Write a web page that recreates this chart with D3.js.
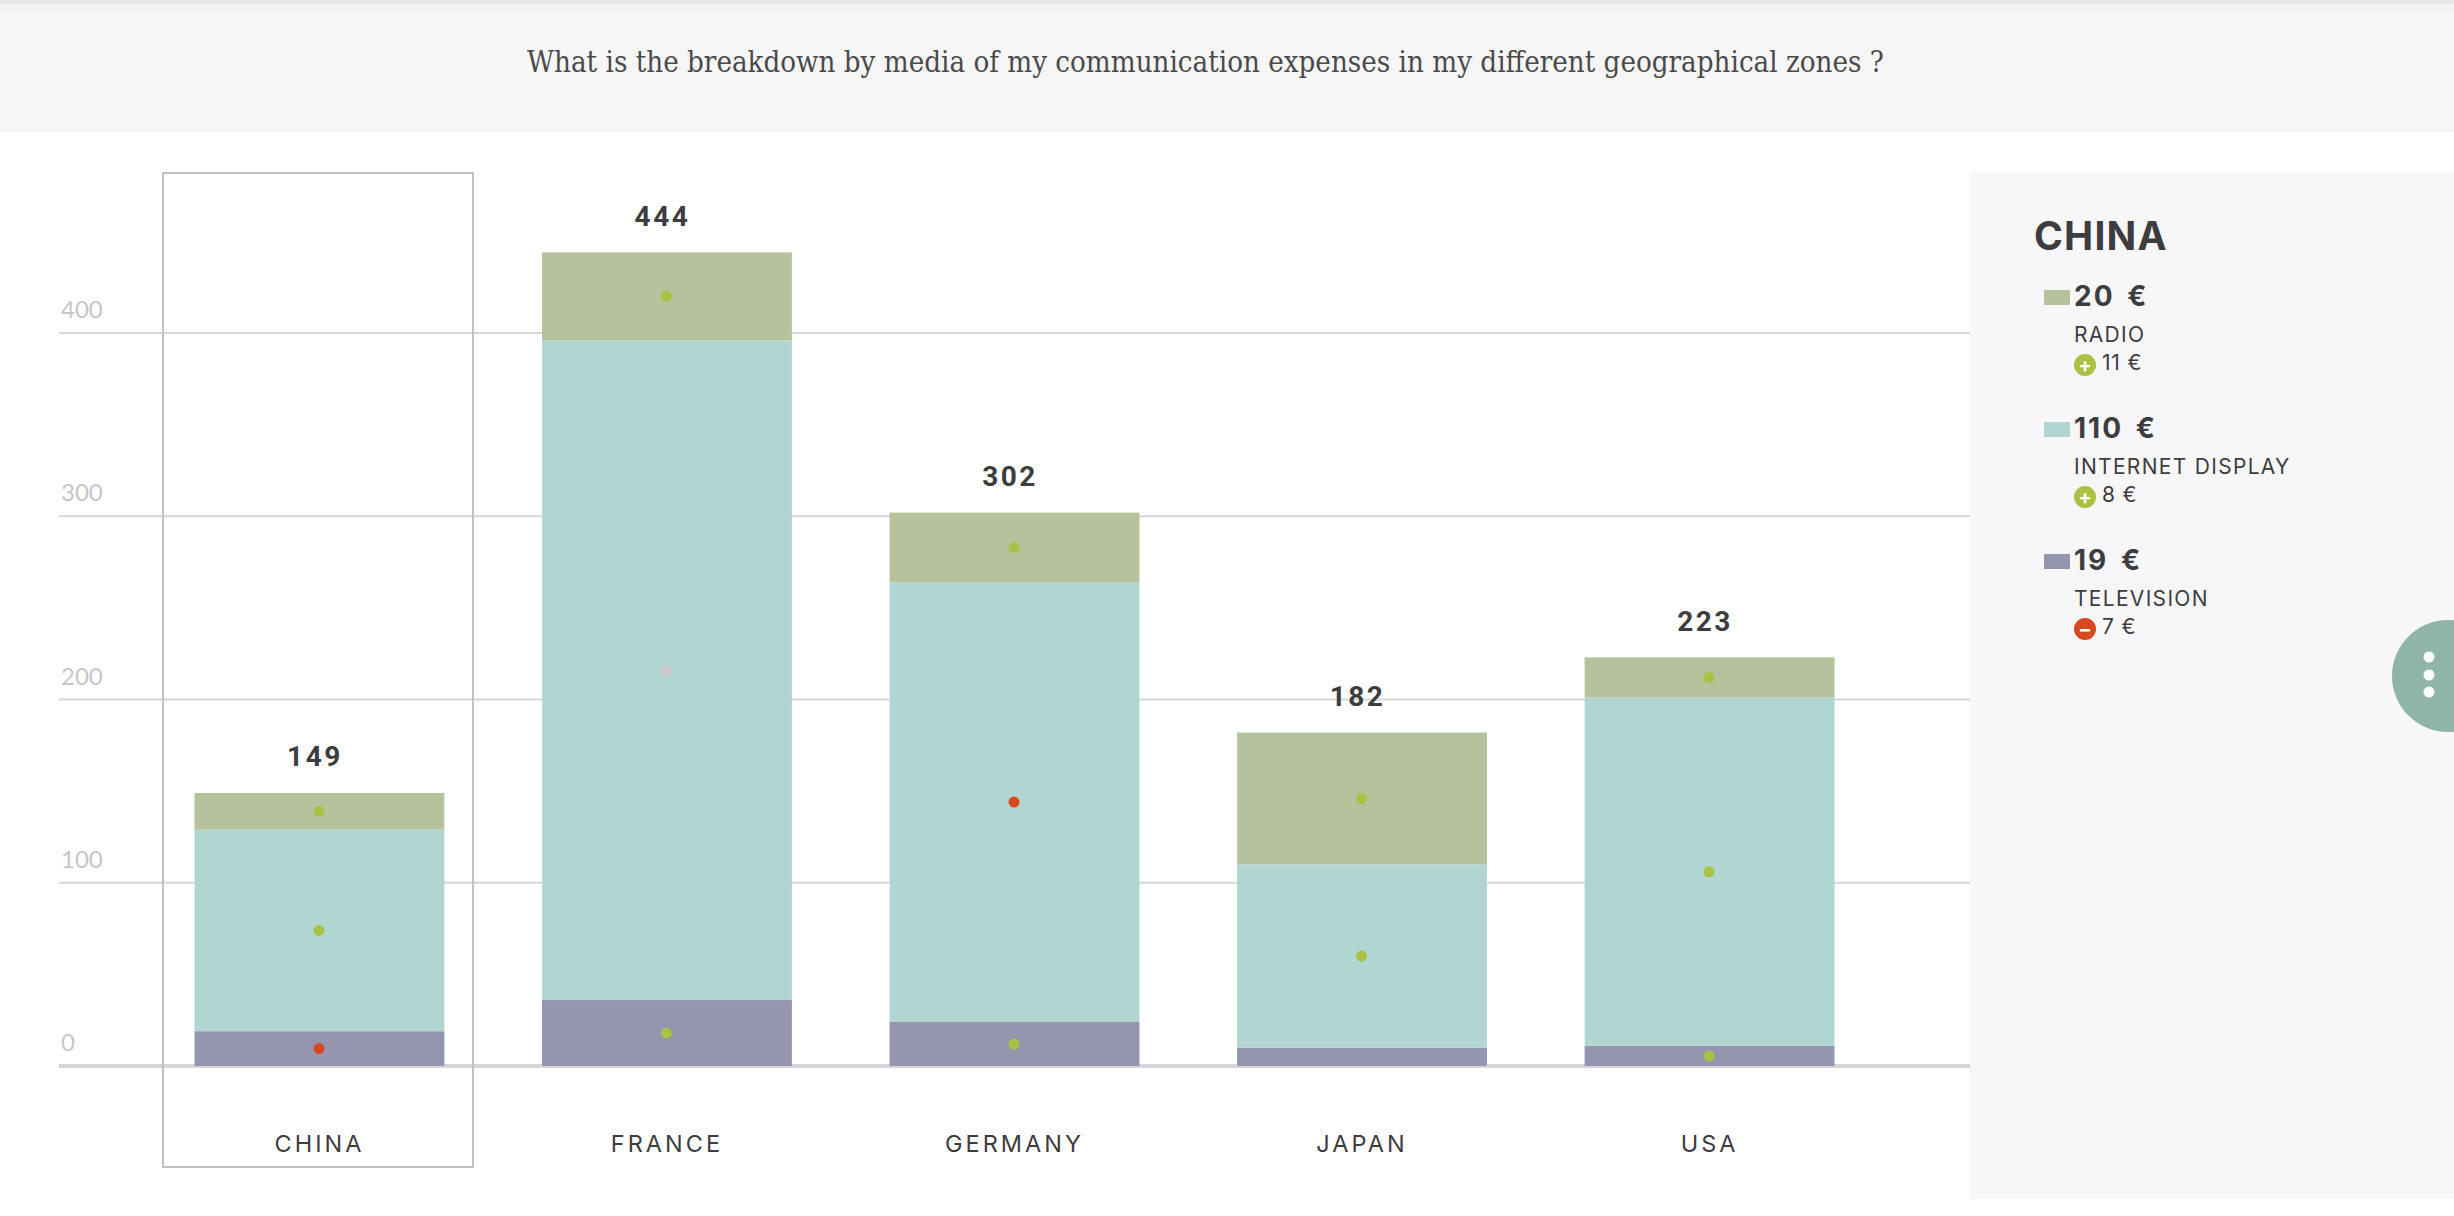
<!DOCTYPE html>
<html>
<head>
<meta charset="utf-8">
<script src="https://cdn.jsdelivr.net/npm/d3@7"></script>
<style>
  html, body { margin: 0; padding: 0; background: #fff; overflow: hidden; }
  svg { display: block; }
  text { fill: #3d3d3f; }
</style>
</head>
<body>
<div id="root"></div>
<script>
const question = "What is the breakdown by media of my communication expenses in my different geographical zones ?"

const countries = ["CHINA", "FRANCE", "GERMANY", "JAPAN", "USA"]
const television = [19, 36, 24, 10, 11]
const internetDisplay = [110, 360, 240, 100, 190]
const radio = [20, 48, 38, 72, 22]

// variation sign shown by the dot of each segment, 0 = no dot
const televisionTrend = [-1, 1, 1, 0, 1]
const internetTrend = [1, -1, -1, 1, 1]
const radioTrend = [1, 1, 1, 1, 1]

const yTicks = [0, 100, 200, 300, 400]

const legendTitle = "CHINA"
const legendNames = ["RADIO", "INTERNET DISPLAY", "TELEVISION"]
const legendValues = [20, 110, 19]
const legendDeltas = [11, 8, -7]
const legendKeys = ["radio", "internet", "television"]

const w = 2454, h = 1216
const colors = {television: "#9595b0", internet: "#b1d6d2", radio: "#b6c29b"}
const up = "#a9c244", down = "#d6491f"

const rows = countries.map((c, i) => ({
    country: c,
    television: television[i],
    internet: internetDisplay[i],
    radio: radio[i],
    trend: {television: televisionTrend[i], internet: internetTrend[i], radio: radioTrend[i]}
}))

const svg = d3.select("#root").append("svg")
    .attr("width", w)
    .attr("height", h)

// header band
svg.append("rect").attr("width", w).attr("height", 132).attr("fill", "#f6f6f6")
svg.append("rect").attr("width", w).attr("height", 4).attr("fill", "#e8e8e8")
svg.append("rect").attr("y", 4).attr("width", w).attr("height", 8).attr("fill", "#f3f3f3")
svg.append("text")
    .attr("x", 1205.5)
    .attr("y", 72)
    .attr("text-anchor", "middle")
    .attr("font-family", "'DejaVu Serif Condensed', 'DejaVu Serif'")
    .attr("font-size", 29.2)
    .style("fill", "#4a4a4c")
    .text(question)

// side panel
svg.append("rect").attr("x", 1970).attr("y", 172).attr("width", w - 1970).attr("height", 1027).attr("fill", "#f7f6f8")

//scales
const x = d3.scaleBand()
    .domain(countries)
    .range([194.5, 1834.5])
    .paddingInner(0.281)
    .paddingOuter(0)

const y = d3.scaleLinear()
    .domain([0, 400])
    .range([1066, 333])

// y axis, its ticks are the gridlines
const yAxis = svg.append("g")
    .attr("transform", "translate(59,-0.5)")
    .call(d3.axisRight(y).tickValues(yTicks).tickSize(1970 - 59))

yAxis.select(".domain").remove()
yAxis.selectAll("line")
    .attr("stroke", "#d6d6da")
    .attr("stroke-width", d => d === 0 ? 4 : 2)
yAxis.selectAll("text")
    .attr("x", 2)
    .attr("dy", 0)
    .attr("y", -15)
    .attr("text-anchor", "start")
    .attr("font-family", "Lato")
    .attr("font-weight", 400)
    .attr("font-size", 24)
    .style("fill", "#c6c6c8")

// stacked bars
const stack = d3.stack().keys(["television", "internet", "radio"])
const layers = stack(rows)

const layer = svg.selectAll("g.layer")
    .data(layers)
    .enter()
    .append("g")
    .attr("class", "layer")
    .attr("fill", d => colors[d.key])

layer.selectAll("rect")
    .data(d => d)
    .enter()
    .append("rect")
    .attr("x", d => x(d.data.country))
    .attr("width", x.bandwidth())
    .attr("y", d => y(d[1]))
    .attr("height", d => y(d[0]) - y(d[1]))

// trend dots in the middle of the segments
const dots = layers.flatMap(l => l.map(d => ({
    country: d.data.country,
    mid: (d[0] + d[1]) / 2,
    sign: d.data.trend[l.key],
    faint: d.data.country === "FRANCE" && l.key === "internet"
}))).filter(d => d.sign !== 0)

svg.selectAll("circle.dot")
    .data(dots)
    .enter()
    .append("circle")
    .attr("class", "dot")
    .attr("cx", d => x(d.country) + x.bandwidth() / 2 - 0.5)
    .attr("cy", d => y(d.mid))
    .attr("r", 5.5)
    .attr("fill", d => d.faint ? "#ccc6cc" : d.sign > 0 ? up : down)

// totals
svg.selectAll("text.total")
    .data(rows)
    .enter()
    .append("text")
    .attr("class", "total")
    .attr("x", d => x(d.country) + x.bandwidth() / 2 - 4.5)
    .attr("y", d => y(d.television + d.internet + d.radio) - 26.5)
    .attr("text-anchor", "middle")
    .attr("font-family", "Roboto")
    .attr("font-weight", 700)
    .attr("font-size", 28)
    .attr("letter-spacing", 2.5)
    .text(d => d.television + d.internet + d.radio)

// x axis
const xAxis = svg.append("g")
    .attr("transform", "translate(0,1066)")
    .call(d3.axisBottom(x).tickSize(0))

xAxis.select(".domain").remove()
xAxis.selectAll("text")
    .attr("dy", 0)
    .attr("y", 86)
    .attr("font-family", "Inter")
    .attr("font-weight", 400)
    .attr("font-size", 23.5)
    .attr("letter-spacing", 3)

// selected country frame
svg.append("rect")
    .attr("x", x("CHINA") - 31.5)
    .attr("y", 173)
    .attr("width", 310)
    .attr("height", 994)
    .attr("fill", "none")
    .attr("stroke", "#c2c2c6")
    .attr("stroke-width", 2)

// legend panel
svg.append("text")
    .attr("x", 2034)
    .attr("y", 250)
    .attr("font-family", "Inter")
    .attr("font-weight", 700)
    .attr("font-size", 39)
    .attr("letter-spacing", 1.2)
    .text(legendTitle)

const legend = svg.selectAll("g.legend")
    .data(legendNames)
    .enter()
    .append("g")
    .attr("class", "legend")
    .attr("transform", (d, i) => `translate(0,${i * 132})`)

legend.append("rect")
    .attr("x", 2044)
    .attr("y", 290)
    .attr("width", 26)
    .attr("height", 15)
    .attr("fill", (d, i) => colors[legendKeys[i]])

legend.append("text")
    .attr("x", 2074)
    .attr("y", 306)
    .attr("font-family", "Inter")
    .attr("font-weight", 700)
    .attr("font-size", 28)
    .attr("letter-spacing", 2)
    .attr("word-spacing", 4)
    .text((d, i) => legendValues[i] + " €")

legend.append("text")
    .attr("x", 2074)
    .attr("y", 342)
    .attr("font-family", "Inter")
    .attr("font-size", 21)
    .attr("letter-spacing", 1.3)
    .text(d => d)

legend.append("circle")
    .attr("cx", 2085)
    .attr("cy", 365)
    .attr("r", 11)
    .attr("fill", (d, i) => legendDeltas[i] > 0 ? up : down)

legend.append("text")
    .attr("x", 2085)
    .attr("y", 372)
    .attr("text-anchor", "middle")
    .attr("font-family", "Inter")
    .attr("font-weight", 700)
    .attr("font-size", 20)
    .style("fill", "#fff")
    .text((d, i) => legendDeltas[i] > 0 ? "+" : "−")

legend.append("text")
    .attr("x", 2102)
    .attr("y", 370)
    .attr("font-family", "Inter")
    .attr("font-size", 21)
    .attr("letter-spacing", 0.8)
    .text((d, i) => Math.abs(legendDeltas[i]) + " €")

// menu button on the right edge
svg.append("circle").attr("cx", 2448).attr("cy", 676).attr("r", 56).attr("fill", "#8fb5aa")
svg.selectAll("circle.menu")
    .data([-18, 0, 17])
    .enter()
    .append("circle")
    .attr("class", "menu")
    .attr("cx", 2429)
    .attr("cy", d => 675 + d)
    .attr("r", 5.5)
    .attr("fill", "#fff")
</script>
</body>
</html>
